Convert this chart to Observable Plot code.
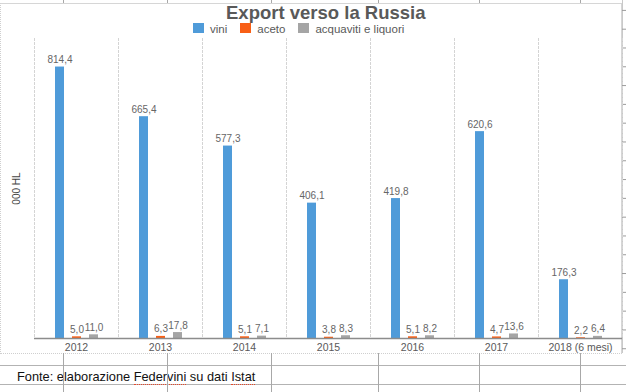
<!DOCTYPE html>
<html>
<head>
<meta charset="utf-8">
<script src="https://cdn.jsdelivr.net/npm/d3@7"></script>
<script src="https://cdn.jsdelivr.net/npm/@observablehq/plot@0.6"></script>
<style>
  html, body { margin: 0; padding: 0; background: #fff; }
  #wrap { position: relative; width: 626px; height: 392px; overflow: hidden; font-family: "Liberation Sans", Arial, sans-serif; }
  .abs { position: absolute; }
  #title { left: 226px; top: 3.6px; font-size: 18.5px; font-weight: bold; color: #595959; white-space: nowrap; line-height: 17px; }
  #legend { left: 193px; top: 23.5px; display: flex; align-items: center; font-size: 11.5px; color: #595959; white-space: nowrap; line-height: 11px; }
  #legend .sw { width: 11px; height: 10px; display: inline-block; margin-right: 6px; position: relative; top: -1.5px; }
  #legend .it { display: flex; align-items: center; margin-right: 13px; }
  #caption { left: 17px; top: 370px; font-size: 12.8px; color: #111; white-space: nowrap; line-height: 13px; }
  .sq { border-bottom: 1.5px dotted #e8482a; }
  .hl { left: 0; width: 626px; height: 1px; background: #b3b3b3; }
  .vl { width: 1px; background: #a8a8a8; }
  #border { left: 0; top: 3px; width: 620px; height: 349px; border-left: 1px dotted #cfcfcf; border-bottom: 1px dotted #cfcfcf; border-right: 1px solid #d6d6d6; border-top: 1px solid #d6d6d6; }
  #rticks { left: 622px; top: 0; width: 4px; height: 353px; background: repeating-linear-gradient(to bottom, transparent 0 9.4px, #9a9a9a 9.4px 10.4px, transparent 10.4px 18.8px); background-size: 4px 18.8px; background-position: 0 0; }
  #rline { left: 622px; top: 0; width: 1px; height: 353px; background: #c9c9c9; }
  svg { position: absolute; left: 0; top: 0; }
</style>
</head>
<body>
<div id="wrap">
  <div id="border" class="abs"></div>
  <div id="rline" class="abs"></div>
  <div id="rticks" class="abs"></div>
  <div class="abs hl" style="top:365px"></div>
  <div class="abs hl" style="top:384px"></div>
  <div id="chart"></div>
  <div id="title" class="abs">Export verso la Russia</div>
  <div id="legend" class="abs"></div>
  <div id="caption" class="abs">Fonte: elaborazione <span class="sq">Federvini</span> su dati <span class="sq">Istat</span></div>
</div>
<script>
// ---- data ----
const years = ["2012", "2013", "2014", "2015", "2016", "2017", "2018 (6 mesi)"];
const series = ["vini", "aceto", "acquaviti e liquori"];
const vini = [814.4, 665.4, 577.3, 406.1, 419.8, 620.6, 176.3];
const aceto = [5.0, 6.3, 5.1, 3.8, 5.1, 4.7, 2.2];
const acquaviti = [11.0, 17.8, 7.1, 8.3, 8.2, 13.6, 6.4];
const colors = ["#4f9bd9", "#f85f16", "#a5a5a5"];
const yLabel = "000 HL";

const valuesBySeries = [vini, aceto, acquaviti];
const data = [];
years.forEach((yr, i) => series.forEach((s, j) => data.push({year: yr, series: s, value: valuesBySeries[j][i]})));
const fmt = v => d3.format(".1f")(v).replace(".", ",");

// spreadsheet column lines (decoration)
const wrap = document.getElementById("wrap");
[63, 167, 271, 378, 479, 580].forEach(x => {
  const a = document.createElement("div");
  a.className = "abs vl"; a.style.left = x + "px"; a.style.top = "353px"; a.style.height = "39px";
  wrap.appendChild(a);
  const b = document.createElement("div");
  b.className = "abs vl"; b.style.left = x + "px"; b.style.top = "0px"; b.style.height = "3px";
  wrap.appendChild(b);
});

// legend
const leg = document.getElementById("legend");
series.forEach((s, j) => {
  const it = document.createElement("span");
  it.className = "it";
  it.innerHTML = `<span class="sw" style="background:${colors[j]}"></span>${s}`;
  leg.appendChild(it);
});

const chart = Plot.plot({
  width: 626,
  height: 354,
  marginTop: 38,
  marginBottom: 16,
  marginLeft: 32,
  marginRight: 3,
  style: {background: "transparent", fontFamily: "Liberation Sans, Arial, sans-serif"},
  fx: {domain: years, padding: 0, label: null},
  x: {domain: series, paddingInner: 0.486, paddingOuter: 1.15, axis: null},
  y: {domain: [0, 900], axis: null},
  color: {domain: series, range: colors},
  marks: [
    Plot.frame({anchor: "left", stroke: "#d4d4d4", strokeDasharray: "2,2"}),
    Plot.frame({anchor: "right", stroke: "#d4d4d4", strokeDasharray: "2,2"}),
    Plot.barY(data, {fx: "year", x: "series", y: "value", fill: "series"}),
    Plot.text(data, {fx: "year", x: "series", y: "value", text: d => fmt(d.value), dy: -4, lineAnchor: "bottom", fontSize: 10, fill: "#666666"}),
    Plot.ruleY([0], {stroke: "#8c8c8c", strokeWidth: 1.5}),
    Plot.axisFx({anchor: "bottom", tickSize: 0, tickPadding: 5, label: null, fontSize: 10.5, color: "#595959"}),
    Plot.axisY({ticks: [], tickSize: 0, label: yLabel, labelArrow: "none", labelAnchor: "center", labelOffset: 22, fontSize: 10, color: "#444"})
  ]
});
document.getElementById("chart").appendChild(chart);
</script>
</body>
</html>
